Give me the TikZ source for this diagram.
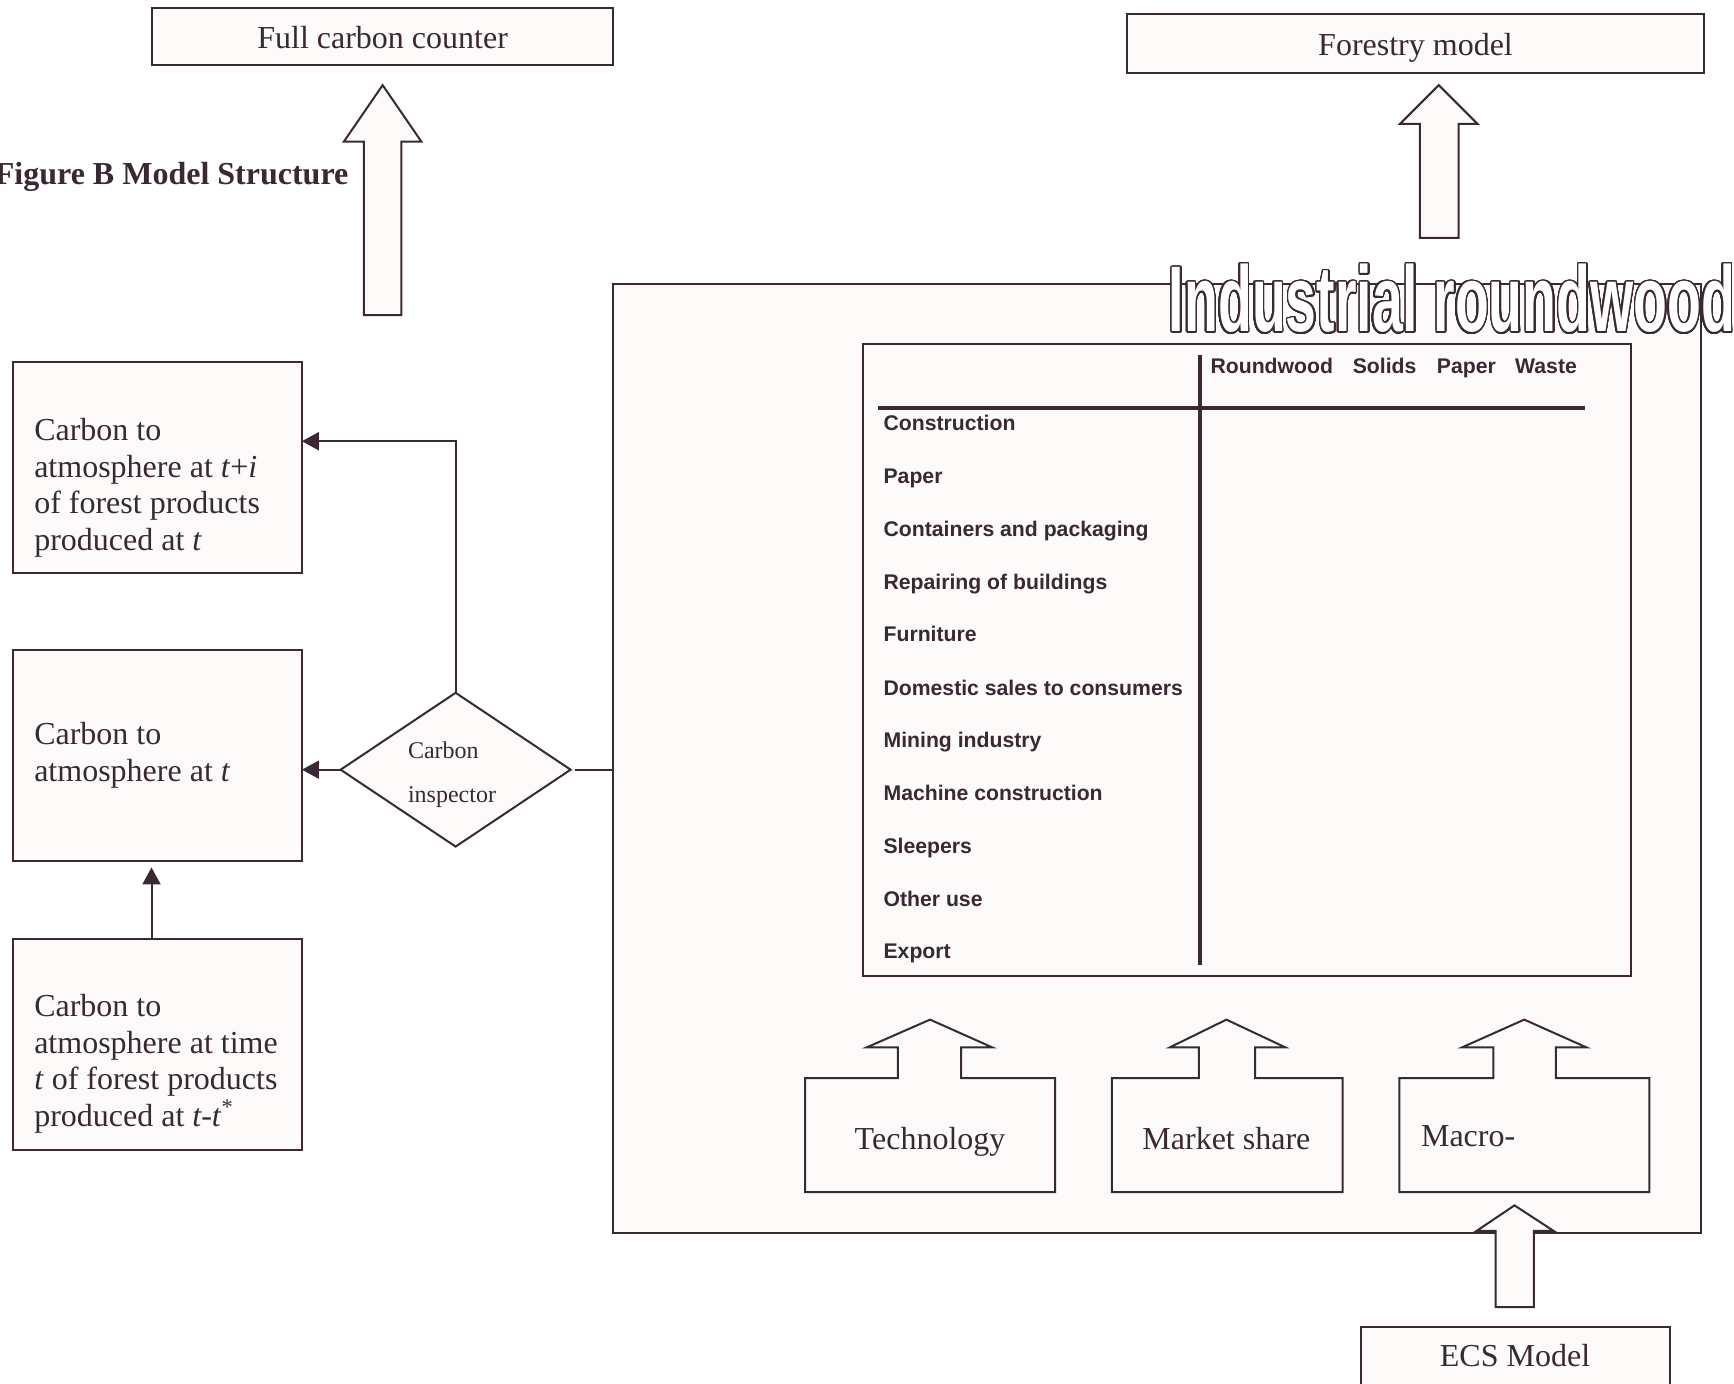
\documentclass[tikz,border=0pt]{standalone}
\usepackage{fontspec}
\setmainfont{Liberation Serif}
\newfontfamily\tabfont{Liberation Sans}
\usepackage{contour}
\usetikzlibrary{arrows.meta,shapes.geometric,fit}
\definecolor{lineC}{RGB}{58,40,52}
\definecolor{fillC}{RGB}{252,251,250}
\contourlength{0.75pt}
\contournumber{32}
\begin{document}
\begin{tikzpicture}[x=0.55295pt,y=-0.55295pt,
  every node/.style={inner sep=0pt, outer sep=0pt},
  box/.style={draw=lineC, fill=fillC, line width=1pt, rectangle, inner sep=0pt},
  serif/.style={font=\fontsize{16}{18.4}\selectfont, text=lineC, align=left},
  small/.style={font=\fontsize{12}{22.1}\selectfont, text=lineC, align=left},
  tab/.style={font=\tabfont\bfseries\fontsize{10.6}{12}\selectfont, text=lineC},
  conn/.style={draw=lineC, line width=1pt},
  tip/.style={-{Triangle[length=8.5pt,width=9pt]}},
  blockarrow/.style={draw=lineC, fill=fillC, line width=1pt, line join=miter},
  thickline/.style={draw=lineC, line width=2pt}
]
\useasboundingbox (0,0) rectangle (1568,1251);
\fill[white] (0,0) rectangle (1568,1251);

% top boxes
\node[box, fit={(137,7) (554,59)}] (fcc) {};
\node[serif, anchor=base] (tfcc) at (346,44) {Full carbon counter};
\node[box, fit={(1019,13) (1541,66)}] (fm) {};
\node[serif, anchor=base] (tfm) at (1280,50) {Forestry model};

% title
\node[font=\bfseries\fontsize{16}{18}\selectfont, text=lineC, anchor=base east] (title) at (315,167) {Figure B Model Structure};

% block arrows up
\draw[blockarrow] (329,285) -- (329,128) -- (311,128) -- (346,77) -- (381,128) -- (363,128) -- (363,285) -- cycle;
\draw[blockarrow] (1284,215) -- (1284,112) -- (1266,112) -- (1301,77) -- (1336,112) -- (1319,112) -- (1319,215) -- cycle;

% big box
\node[box, fit={(554,257) (1538,1115)}] (big) {};

% table
\node[box, fit={(780,311) (1475,883)}] (tbl) {};
\draw[thickline] (1085,321) -- (1085,873);
\draw[thickline] (794,369) -- (1433,369);
\node[tab, anchor=base] (h1) at (1150,338) {Roundwood};
\node[tab, anchor=base] (h2) at (1252,338) {Solids};
\node[tab, anchor=base] (h3) at (1326,338) {Paper};
\node[tab, anchor=base] (h4) at (1398,338) {Waste};
\node[tab, anchor=base west] (r1) at (799,389) {Construction};
\node[tab, anchor=base west] (r2) at (799,437) {Paper};
\node[tab, anchor=base west] (r3) at (799,485) {Containers and packaging};
\node[tab, anchor=base west] (r4) at (799,533) {Repairing of buildings};
\node[tab, anchor=base west] (r5) at (799,580) {Furniture};
\node[tab, anchor=base west] (r6) at (799,629) {Domestic sales to consumers};
\node[tab, anchor=base west] (r7) at (799,676) {Mining industry};
\node[tab, anchor=base west] (r8) at (799,724) {Machine construction};
\node[tab, anchor=base west] (r9) at (799,772) {Sleepers};
\node[tab, anchor=base west] (r10) at (799,820) {Other use};
\node[tab, anchor=base west] (r11) at (799,867) {Export};

% bottom arrow-boxes
\draw[blockarrow] (728,1078) -- (728,975) -- (812,975) -- (812,947) -- (784,947) -- (841,922) -- (897,947) -- (869,947) -- (869,975) -- (954,975) -- (954,1078) -- cycle;
\node[serif, anchor=base] (ttech) at (841,1039) {Technology};
\draw[blockarrow] (1005.5,1078) -- (1005.5,975) -- (1084,975) -- (1084,947) -- (1058,947) -- (1109,922) -- (1162,947) -- (1135,947) -- (1135,975) -- (1214,975) -- (1214,1078) -- cycle;
\node[serif, anchor=base] (tms) at (1109,1039) {Market share};
\draw[blockarrow] (1265.3,1078) -- (1265.3,975) -- (1350.4,975) -- (1350.4,947) -- (1322.3,947) -- (1378.3,922) -- (1434.3,947) -- (1406.9,947) -- (1406.9,975) -- (1491.4,975) -- (1491.4,1078) -- cycle;
\node[serif, anchor=base west] (tmac) at (1285,1037) {Macro-};

% ECS
\draw[blockarrow] (1352.4,1182) -- (1352.4,1113) -- (1335.3,1113) -- (1369.5,1090) -- (1404.8,1113) -- (1387.1,1113) -- (1387.1,1182) -- cycle;
\node[box, fit={(1231,1200) (1510,1280)}] (ecs) {};
\node[serif, anchor=base] (tecs) at (1370,1236) {ECS Model};

% left boxes
\node[box, fit={(12,327) (273,518)}] (box1) {};
\node[serif, anchor=north west] (t1) at (31,378) {Carbon to\\atmosphere at \textit{t}+\textit{i}\\of forest products\\produced at \textit{t}};
\node[box, fit={(12,588) (273,779)}] (box2) {};
\node[serif, anchor=north west] (t2) at (31,653) {Carbon to\\atmosphere at \textit{t}};
\node[box, fit={(12,849) (273,1040)}] (box3) {};
\node[serif, anchor=north west] (t3) at (31,899) {Carbon to\\atmosphere at time\\\textit{t} of forest products\\produced at \textit{t-t}\textsuperscript{*}};

% diamond
\node[diamond, draw=lineC, fill=fillC, line width=1pt, minimum width=115pt, minimum height=76.9pt, inner sep=0pt] (dia) at (412,696) {};
\node[small, anchor=north west] (tdia) at (369,671) {Carbon\\inspector};

% connectors
\coordinate (k1) at (413,399);
\coordinate (k2) at (137,0);
\draw[conn, tip] (dia.west) -- (dia.west -| box2.east);
\draw[conn, tip] (dia.north) -- (dia.north |- k1) -- (k1 -| box1.east);
\draw[conn, shorten <=2pt] (dia.east) -- (dia.east -| big.west);
\draw[conn, tip, shorten >=3pt] (k2 |- box3.north) -- (k2 |- box2.south);

% outlined title
\node[text=white, anchor=base west] (indr) at (1057,300) {\contour{lineC}{\resizebox{283pt}{33.8pt}{\tabfont\bfseries Industrial roundwood}}};
\end{tikzpicture}
\end{document}
